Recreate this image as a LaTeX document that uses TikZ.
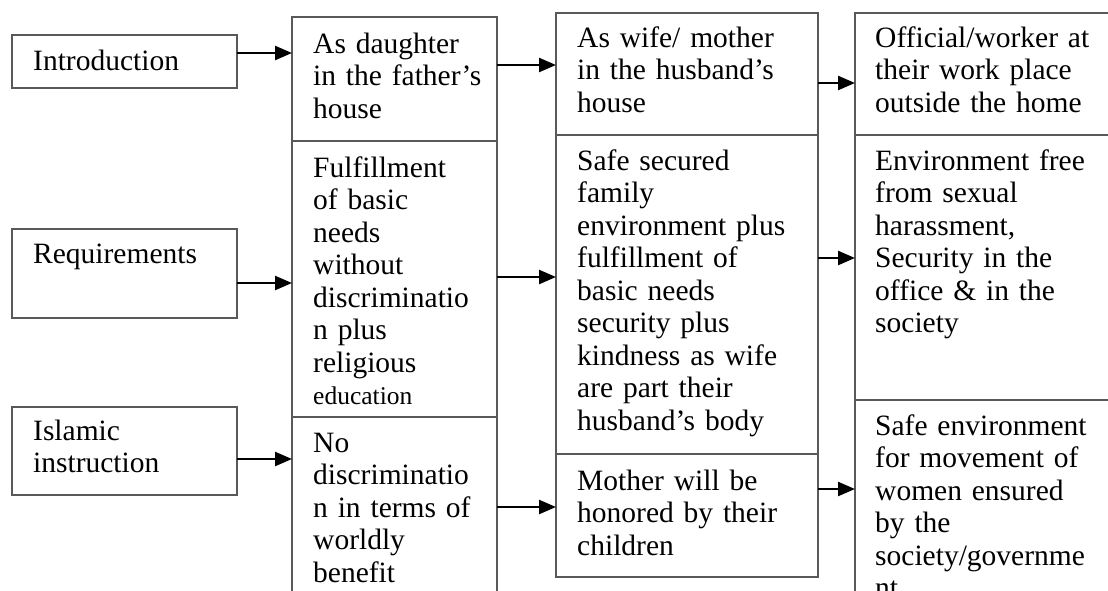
\documentclass[tikz,border=0pt]{standalone}
\usepackage{fontspec}
\setmainfont{Liberation Serif}
\usetikzlibrary{arrows.meta}

\newcommand{\cellfont}{\fontsize{29.5}{32.5}\selectfont}

\begin{document}
\begin{tikzpicture}[x=1pt, y=-1pt,
	box/.style={draw=black!65, line width=2pt, anchor=north west, inner sep=0pt, outer sep=0pt},
	txt/.style={anchor=base west, inner sep=0pt, text width=#1, align=left, font=\cellfont},
	arr/.style={-{Triangle[length=17pt, width=14pt]}, line width=2.4pt}]
	\useasboundingbox (0,0) rectangle (1108,590);
	\clip (0,0) rectangle (1108,590);

	% Headings (left column)
	\node[box, minimum width=225pt, minimum height=53pt] (intro) at (12,35) {};
	\node[box, minimum width=225pt, minimum height=89pt] (req) at (12,229) {};
	\node[box, minimum width=225pt, minimum height=88pt] (islam) at (12,407) {};

	% As daughter
	\node[box, minimum width=205pt, minimum height=124pt] (daughter) at (292,17) {};
	\node[box, minimum width=205pt, minimum height=276pt] (basic) at (292,141) {};
	\node[box, minimum width=205pt, minimum height=200pt] (nodisc) at (292,417) {};

	% As wife / mother
	\node[box, minimum width=262pt, minimum height=122pt] (wife) at (556,13) {};
	\node[box, minimum width=262pt, minimum height=319pt] (family) at (556,135) {};
	\node[box, minimum width=262pt, minimum height=123pt] (honor) at (556,454) {};

	% As official / worker
	\node[box, minimum width=270pt, minimum height=122pt] (work) at (855,13) {};
	\node[box, minimum width=270pt, minimum height=265pt] (harass) at (855,135) {};
	\node[box, minimum width=270pt, minimum height=220pt] (move) at (855,400) {};

	% Texts
	\node[txt=200pt] (intro-t) at ([shift={(21pt,-35pt)}]intro.north west) {Introduction};
	\node[txt=200pt] (req-t) at ([shift={(21pt,-34pt)}]req.north west) {Requirements};
	\node[txt=200pt] (islam-t) at ([shift={(21pt,-33pt)}]islam.north west) {Islamic\\ instruction};

	\node[txt=190pt] (daughter-t) at ([shift={(21pt,-36pt)}]daughter.north west)
		{As daughter\\ in the father’s\\ house};
	\node[txt=190pt] (basic-t) at ([shift={(21pt,-36pt)}]basic.north west)
		{Fulfillment\\ of basic\\ needs\\ without\\ discriminatio\\ n plus\\ religious\\
		{\fontsize{25.5}{30}\selectfont education}};
	\node[txt=190pt] (nodisc-t) at ([shift={(21pt,-35pt)}]nodisc.north west)
		{No\\ discriminatio\\ n in terms of\\ worldly\\ benefit};

	\node[txt=240pt] (wife-t) at ([shift={(21pt,-34pt)}]wife.north west)
		{As wife/ mother\\ in the husband’s\\ house};
	\node[txt=240pt] (family-t) at ([shift={(21pt,-35pt)}]family.north west)
		{Safe secured\\ family\\ environment plus\\ fulfillment of\\ basic needs\\
		security plus\\ kindness as wife\\ are part their\\ husband’s body};
	\node[txt=240pt] (honor-t) at ([shift={(21pt,-36pt)}]honor.north west)
		{Mother will be\\ honored by their\\ children};

	\node[txt=245pt] (work-t) at ([shift={(20pt,-34pt)}]work.north west)
		{Official/worker at\\ their work place\\ outside the home};
	\node[txt=245pt] (harass-t) at ([shift={(20pt,-35pt)}]harass.north west)
		{Environment free\\ from sexual\\ harassment,\\ Security in the\\ office \& in the\\ society};
	\node[txt=245pt] (move-t) at ([shift={(20pt,-35pt)}]move.north west)
		{Safe environment\\ for movement of\\ women ensured\\ by the\\ society/governme\\ nt};

	% Arrows
	\draw[arr] (intro.east |- 0,53) -- (daughter.west |- 0,53);
	\draw[arr] (req.east |- 0,283) -- (basic.west |- 0,283);
	\draw[arr] (islam.east |- 0,459) -- (nodisc.west |- 0,459);

	\draw[arr] (daughter.east |- 0,65) -- (wife.west |- 0,65);
	\draw[arr] (basic.east |- 0,277) -- (family.west |- 0,277);
	\draw[arr] (nodisc.east |- 0,507) -- (honor.west |- 0,507);

	\draw[arr] (wife.east |- 0,83) -- (work.west |- 0,83);
	\draw[arr] (family.east |- 0,258) -- (harass.west |- 0,258);
	\draw[arr] (honor.east |- 0,489) -- (move.west |- 0,489);
\end{tikzpicture}
\end{document}
